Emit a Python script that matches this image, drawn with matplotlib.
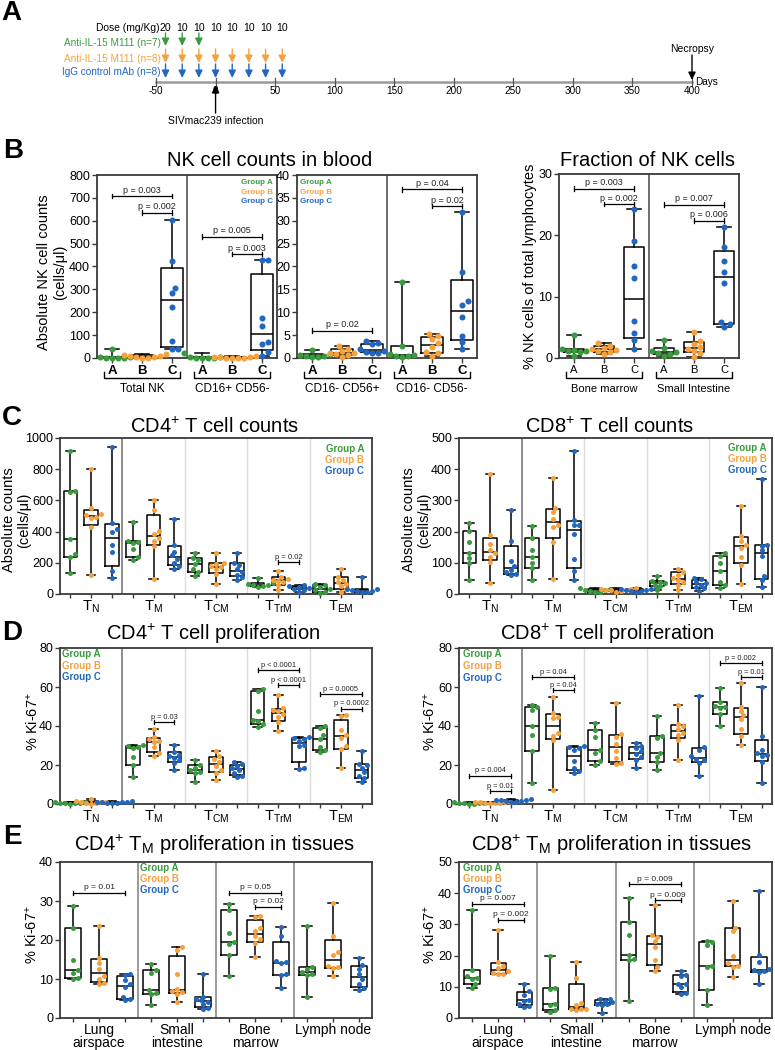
import numpy as np
import matplotlib
matplotlib.use('Agg')
import matplotlib.pyplot as plt
from matplotlib.transforms import blended_transform_factory as btf

plt.rcParams['font.family'] = ['Liberation Sans', 'DejaVu Sans']
plt.rcParams['mathtext.fontset'] = 'custom'
plt.rcParams['mathtext.rm'] = 'Liberation Sans'
plt.rcParams['mathtext.it'] = 'Liberation Sans:italic'
plt.rcParams['mathtext.bf'] = 'Liberation Sans:bold'

A_FS = 7.2

# ---------------- DATA ----------------
group_names = ['Group A', 'Group B', 'Group C']
group_letters = ['A', 'B', 'C']
COLORS = ['#3A9B3E', '#F7A13C', '#2267BF']

# Panel A: dosing timeline
dose_days = [-42, -28, -14, 0, 14, 28, 42, 56]
dose_mg = [20, 10, 10, 10, 10, 10, 10, 10]
groupA_dose_days = [-42, -28, -14]
timeline_ticks = [-50, 0, 50, 100, 150, 200, 250, 300, 350, 400]
infection_day = 0
necropsy_day = 400
arm_labels = ['Anti-IL-15 M111 (n=7)', 'Anti-IL-15 M111 (n=8)', 'IgG control mAb (n=8)']

# Panel B: NK cell counts in blood (cells/ul) [group A, B, C]
nk_total = [[38, 5, 3, 2, 1, 0.5, 0], [18, 12, 9, 7, 5, 4, 2, 1],
            [604, 425, 304, 282, 225, 76, 41, 40]]
nk_cd16p_cd56n = [[20, 5, 3, 2, 1, 0.5, 0], [10, 6, 4, 3, 2, 1, 0.5, 0],
                  [430, 428, 177, 138, 68, 60, 25, 7]]
nk_cd16n_cd56p = [[1.7, 0.8, 0.6, 0.5, 0.4, 0.3, 0.2], [2.6, 2.0, 1.5, 1.2, 1.0, 0.8, 0.6, 0.3],
                  [3.8, 3.2, 3.0, 2.0, 1.5, 1.3, 1.2, 1.1]]
nk_cd16n_cd56n = [[16.7, 2.6, 0.8, 0.6, 0.5, 0.4, 0.3], [5.3, 4.7, 4.2, 3.3, 2.5, 1.3, 1.0, 0.4],
                  [32, 18.7, 12.4, 11.5, 8.9, 4.9, 3.6, 1.9]]
nk_subset_labels = ['Total NK', 'CD16+ CD56-', 'CD16- CD56+', 'CD16- CD56-']
# Fraction of NK cells (% of lymphocytes)
nk_frac_bm = [[3.7, 1.5, 1.3, 1.2, 1.1, 1.0, 0.4], [2.4, 2.0, 1.7, 1.5, 1.3, 1.1, 0.9, 0.7],
              [24.3, 19.1, 15.0, 13.1, 6.0, 4.0, 3.0, 1.5]]
nk_frac_si = [[2.9, 1.6, 1.2, 1.0, 0.8, 0.6, 0.4], [4.2, 2.8, 2.3, 1.8, 1.4, 1.2, 0.8, 0.2],
              [21.3, 18.1, 15.8, 14.0, 12.3, 5.8, 5.5, 5.0]]
nk_tissue_labels = ['Bone marrow', 'Small Intestine']

# Panel C: T cell counts
subset_labels = [r'T$_{\mathregular{N}}$', r'T$_{\mathregular{M}}$', r'T$_{\mathregular{CM}}$',
                 r'T$_{\mathregular{TrM}}$', r'T$_{\mathregular{EM}}$']
cd4_cnt_TN = [[919, 662, 654, 350, 256, 235, 135], [800, 550, 510, 505, 495, 485, 430, 120],
              [942, 455, 419, 400, 316, 271, 145, 103]]
cd4_cnt_TM = [[462, 340, 335, 325, 290, 235, 215], [603, 541, 402, 385, 360, 340, 306, 98],
              [483, 316, 272, 248, 225, 200, 178, 162]]
cd4_cnt_TCM = [[262, 230, 215, 190, 160, 140, 115], [265, 200, 192, 180, 172, 160, 130, 64],
               [265, 200, 185, 160, 140, 125, 110, 92]]
cd4_cnt_TrM = [[105, 72, 65, 60, 55, 50, 45], [150, 110, 98, 90, 85, 75, 55, 25],
               [60, 55, 50, 45, 40, 35, 28, 15]]
cd4_cnt_TEM = [[62, 55, 45, 32, 25, 15, 8], [160, 112, 90, 75, 65, 50, 30, 15],
               [108, 35, 30, 25, 22, 18, 14, 10]]
cd8_cnt_TN = [[228, 202, 168, 130, 115, 98, 45], [386, 188, 160, 142, 130, 120, 104, 34],
              [268, 170, 105, 90, 78, 70, 64, 60]]
cd8_cnt_TM = [[218, 178, 140, 118, 100, 83, 45], [373, 276, 262, 240, 220, 215, 168, 49],
              [457, 238, 222, 220, 192, 112, 73, 46]]
cd8_cnt_TCM = [[18, 15, 13, 12, 10, 8, 5], [18, 16, 15, 14, 13, 12, 10, 8],
               [18, 16, 15, 14, 12, 10, 9, 7]]
cd8_cnt_TrM = [[57, 43, 40, 35, 30, 25, 12], [80, 72, 62, 52, 45, 40, 30, 12],
               [52, 47, 40, 35, 30, 24, 18, 10]]
cd8_cnt_TEM = [[131, 122, 98, 75, 40, 28, 19], [283, 185, 170, 158, 148, 118, 94, 31],
               [368, 158, 155, 140, 122, 58, 45, 24]]

# Panel D: % Ki-67+
cd4_ki_TN = [[1.2, 0.9, 0.7, 0.5, 0.4, 0.3, 0.2], [2.8, 1.5, 1.2, 1.0, 0.8, 0.6, 0.4, 0.2],
             [1.4, 1.2, 1.0, 0.9, 0.8, 0.7, 0.5, 0.3]]
cd4_ki_TM = [[30.2, 29.5, 29.0, 28.5, 24.0, 19.8, 13.7], [38.6, 34.2, 33.5, 32.5, 31.6, 29.0, 26.2, 24.4],
             [30.3, 26.8, 25.3, 24.5, 23.7, 22.5, 21.0, 17.5]]
cd4_ki_TCM = [[22.4, 19.8, 18.5, 17.3, 16.5, 15.9, 11.1], [27.0, 24.8, 23.0, 21.5, 19.5, 17.5, 15.9, 12.5],
              [21.5, 20.5, 19.5, 18.3, 17.5, 16.0, 14.2, 13.8]]
cd4_ki_TrM = [[59.2, 58.2, 47.9, 43.0, 42.5, 41.0, 39.3], [56.0, 49.2, 48.2, 47.5, 46.0, 44.5, 42.0, 37.6],
              [34.4, 34.0, 33.5, 32.5, 30.5, 29.5, 18.6, 18.0]]
cd4_ki_TEM = [[39.8, 39.0, 35.6, 33.3, 29.0, 27.9, 26.5], [45.8, 45.0, 38.0, 35.5, 34.0, 29.6, 28.0, 18.5],
              [27.0, 20.5, 20.0, 18.5, 16.2, 14.5, 13.2, 11.1]]
cd8_ki_TN = [[0.8, 0.6, 0.5, 0.4, 0.3, 0.2, 0.1], [1.2, 1.0, 0.9, 0.8, 0.7, 0.6, 0.5, 0.3],
             [2.8, 2.3, 2.0, 1.8, 1.6, 1.4, 1.2, 1.0]]
cd8_ki_TM = [[51.0, 49.8, 48.4, 40.2, 35.6, 27.0, 10.8], [54.7, 46.7, 44.5, 44.0, 36.5, 35.0, 32.6, 7.0],
             [29.8, 29.3, 28.6, 27.5, 22.0, 18.5, 17.0, 16.0]]
cd8_ki_TCM = [[41.5, 38.1, 34.2, 27.5, 26.0, 21.9, 20.2], [52.0, 36.0, 34.5, 31.0, 27.4, 23.6, 20.8, 20.3],
              [31.3, 29.6, 28.5, 27.0, 25.5, 24.0, 22.5, 18.5]]
cd8_ki_TrM = [[45.0, 34.7, 34.0, 26.0, 24.0, 21.4, 17.3], [50.6, 41.0, 40.0, 38.5, 36.5, 35.5, 33.0, 22.7],
              [55.6, 29.2, 27.5, 24.5, 23.0, 22.8, 21.0, 14.5]]
cd8_ki_TEM = [[59.5, 52.3, 50.5, 49.7, 49.0, 46.2, 40.2], [61.8, 50.0, 47.5, 45.5, 43.5, 38.5, 35.0, 30.4],
              [60.0, 34.7, 27.5, 26.3, 25.3, 24.5, 21.3, 10.8]]

# Panel E: T_M proliferation in tissues (% Ki-67+)
tissue_labels = ['Lung\nairspace', 'Small\nintestine', 'Bone\nmarrow', 'Lymph node']
cd4_tm_lung = [[28.7, 23.0, 14.9, 12.3, 11.5, 10.2, 10.0], [23.6, 15.5, 14.2, 12.5, 10.8, 10.0, 9.0, 8.6],
               [11.3, 11.0, 9.8, 8.6, 8.0, 5.5, 4.8, 4.5]]
cd4_tm_si = [[13.8, 12.2, 11.5, 7.1, 6.4, 6.1, 3.4], [18.2, 17.4, 11.2, 7.5, 7.0, 6.6, 6.2, 4.0],
             [11.3, 5.5, 5.0, 4.5, 4.2, 3.5, 2.6, 2.3]]
cd4_tm_bm = [[29.2, 27.8, 21.9, 19.6, 18.9, 16.2, 10.8], [26.2, 25.8, 23.1, 22.3, 20.9, 20.2, 19.3, 15.6],
             [23.4, 21.1, 14.5, 14.3, 14.1, 11.3, 11.0, 7.7]]
cd4_tm_ln = [[23.6, 13.2, 12.6, 11.8, 11.3, 10.9, 5.5], [29.5, 21.0, 17.0, 16.2, 13.4, 13.0, 12.9, 10.8],
             [15.5, 13.6, 12.5, 11.3, 9.9, 8.8, 7.8, 7.3]]
cd8_tm_lung = [[34.7, 15.3, 13.4, 12.9, 12.5, 10.8, 9.6], [28.3, 18.0, 16.7, 16.0, 15.0, 14.4, 14.2, 14.0],
               [11.0, 8.6, 7.5, 5.8, 5.6, 4.5, 3.9, 3.5]]
cd8_tm_si = [[19.8, 9.6, 9.4, 4.6, 4.2, 2.7, 1.9], [17.8, 12.8, 4.8, 4.2, 3.0, 2.9, 2.8, 2.7],
             [6.2, 6.0, 5.6, 5.0, 4.6, 4.4, 4.2, 1.5]]
cd8_tm_bm = [[38.5, 30.7, 26.5, 20.1, 19.0, 18.5, 5.6], [36.1, 26.5, 26.0, 24.8, 22.8, 18.5, 16.3, 15.0],
             [15.0, 13.9, 13.4, 11.0, 10.8, 9.8, 8.0, 7.8]]
cd8_tm_ln = [[24.8, 24.2, 23.3, 16.7, 16.2, 9.1, 4.1], [37.6, 29.0, 27.8, 19.9, 17.5, 16.8, 16.5, 13.1],
             [40.6, 20.1, 17.9, 15.7, 15.3, 15.0, 14.6, 11.0]]

# significance comparisons: (section, group i, group j, bracket height, label)
pv_nk_left = [(0, 0, 2, 708, 'p = 0.003'), (0, 1, 2, 636, 'p = 0.002'),
              (1, 0, 2, 531, 'p = 0.005'), (1, 1, 2, 455, 'p = 0.003')]
pv_nk_mid = [(0, 0, 2, 6.0, 'p = 0.02'), (1, 0, 2, 36.9, 'p = 0.04'), (1, 1, 2, 33.2, 'p = 0.02')]
pv_nk_frac = [(0, 0, 2, 27.6, 'p = 0.003'), (0, 1, 2, 25.1, 'p = 0.002'),
              (1, 0, 2, 25.0, 'p = 0.007'), (1, 1, 2, 22.4, 'p = 0.006')]
pv_cd4_cnt = [(3, 1, 2, 203, 'p = 0.02')]
pv_cd4_ki = [(1, 1, 2, 41.9, 'p = 0.03'), (3, 0, 2, 68.5, 'p < 0.0001'), (3, 1, 2, 60.9, 'p < 0.0001'),
             (4, 0, 2, 56.4, 'p = 0.0005'), (4, 1, 2, 48.9, 'p = 0.0002')]
pv_cd8_ki = [(0, 0, 2, 14.5, 'p = 0.004'), (0, 1, 2, 6.5, 'p = 0.01'), (1, 0, 2, 65.1, 'p = 0.04'),
             (1, 1, 2, 58.3, 'p = 0.04'), (4, 0, 2, 72.3, 'p = 0.002'), (4, 1, 2, 65.1, 'p = 0.01')]
pv_cd4_tm = [(0, 0, 2, 32.1, 'p = 0.01'), (2, 0, 2, 32.1, 'p = 0.05'), (2, 1, 2, 28.5, 'p = 0.02')]
pv_cd8_tm = [(0, 0, 2, 36.6, 'p = 0.007'), (0, 1, 2, 31.5, 'p = 0.002'),
             (2, 0, 2, 42.8, 'p = 0.009'), (2, 1, 2, 37.7, 'p = 0.009')]

# ---------------- HELPERS ----------------
W, H = 775, 1050
fig = plt.figure(figsize=(W / 100, H / 100), dpi=100)
SPINE = '#3a3a3a'


def px_axes(l, t, r, b):
    return fig.add_axes([l / W, 1 - b / H, (r - l) / W, (b - t) / H])


def ftext(x, y, s, **kw):
    return fig.text(x / W, 1 - y / H, s, **kw)


def box_stats(vals):
    v = np.asarray(vals, float)
    q1, med, q3 = np.percentile(v, [25, 50, 75], method='weibull')
    return dict(med=med, q1=q1, q3=q3, whislo=v.min(), whishi=v.max(), fliers=[])


def swarm_x(ax, x, vals, diam):
    T = ax.transData
    v = np.asarray(vals, float)
    pts = T.transform(np.column_stack([np.full(len(v), float(x)), v]))
    ys = pts[:, 1]
    ppu = T.transform((x + 1.0, 0))[0] - T.transform((x, 0))[0]
    placed = []
    offs = np.zeros(len(v))
    step = diam * 0.5
    for i in np.argsort(ys):
        k = 0
        found = None
        while found is None:
            cands = [0.0] if k == 0 else [k * step, -k * step]
            for c in cands:
                if all((c - px) ** 2 + (ys[i] - py) ** 2 >= (diam * 0.9) ** 2 for px, py in placed):
                    found = c
                    break
            k += 1
        offs[i] = found
        placed.append((found, ys[i]))
    return x + offs / ppu


def style(ax, xlim, ylim, yticks, labelsize=9):
    ax.set_xlim(*xlim)
    ax.set_ylim(*ylim)
    ax.set_yticks(yticks)
    for sp in ax.spines.values():
        sp.set_linewidth(1.3)
        sp.set_color(SPINE)
    ax.tick_params(axis='both', direction='out', length=3.5, width=1, color=SPINE,
                   labelsize=labelsize, pad=1.5)


def draw_sections(ax, sections, box_w, cap_w, diam, ms):
    for s, groups in enumerate(sections):
        for j, vals in enumerate(groups):
            x = 3 * s + j
            lp = dict(color='black', lw=1.1)
            ax.bxp([box_stats(vals)], positions=[x], widths=box_w, capwidths=cap_w,
                   showfliers=False, manage_ticks=False, boxprops=lp, medianprops=lp,
                   whiskerprops=lp, capprops=lp)
            xs = swarm_x(ax, x, vals, diam)
            ax.scatter(xs, vals, s=ms, color=COLORS[j], zorder=4, linewidths=0, clip_on=False)


def sig(ax, comps, fs, hfrac=0.013):
    lo, hi = ax.get_ylim()
    h = (hi - lo) * hfrac
    for s, i, j, y, text in comps:
        x1, x2 = 3 * s + i, 3 * s + j
        ax.plot([x1, x2], [y, y], color='black', lw=0.9, zorder=5)
        for xx in (x1, x2):
            ax.plot([xx, xx], [y - h, y + h], color='black', lw=0.9, zorder=5)
        ax.annotate(text, ((x1 + x2) / 2, y), xytext=(0, 1.0), textcoords='offset points',
                    ha='center', va='bottom', fontsize=fs, color='#222222')


def legend(x, ys, ha, fs):
    for name, col, y in zip(group_names, COLORS, ys):
        ftext(x, y, name, color=col, fontweight='bold', fontsize=fs, ha=ha, va='center')


def under_bracket(ax, x1, x2, label, fs=8.5):
    tr = btf(ax.transData, fig.transFigure)
    yl, yt = 1 - 378 / H, 1 - 372 / H
    ax.plot([x1, x1, x2, x2], [yt, yl, yl, yt], transform=tr, color='black', lw=1, clip_on=False)
    ax.text((x1 + x2) / 2, 1 - 389 / H, label, transform=tr, ha='center', va='center', fontsize=fs)


# ---------------- PANEL LETTERS ----------------
for letter, (lx, ly) in zip('ABCDE', [(11, 13), (13, 151), (12, 418), (12, 633), (12, 837)]):
    ftext(lx, ly, letter, fontsize=20, fontweight='bold', ha='center', va='center')

# ---------------- PANEL A ----------------
axA = px_axes(156, 15, 692, 125)
axA.set_xlim(timeline_ticks[0], timeline_ticks[-1])
axA.set_ylim(125, 15)
axA.axis('off')
akw = dict(fontsize=A_FS)
axA.plot([timeline_ticks[0], timeline_ticks[-1]], [82, 82], color='#9a9a9a', lw=1.8, clip_on=False)
for t in timeline_ticks:
    axA.plot([t, t], [78, 86], color='#555555', lw=0.9, clip_on=False)
    axA.text(t, 91, str(t), ha='center', va='center', **akw)
axA.annotate('Days', (timeline_ticks[-1], 82), xytext=(2, 0), textcoords='offset points',
             ha='left', va='center', **akw)
for d, mg in zip(dose_days, dose_mg):
    axA.text(d, 28, str(mg), ha='center', va='center', fontsize=7.6)
axA.annotate('Dose (mg/Kg)', (dose_days[0], 28), xytext=(-4.5, 0), textcoords='offset points',
             ha='right', va='center', fontsize=7.4)
rows = [(groupA_dose_days, COLORS[0], 33, 46, 43), (dose_days, COLORS[1], 49, 63, 59),
        (dose_days, COLORS[2], 64, 78, 72)]
for (days, col, yt, yb, ylab), lab in zip(rows, arm_labels):
    for d in days:
        axA.annotate('', xy=(d, yb), xytext=(d, yt),
                     arrowprops=dict(arrowstyle='-|>,head_length=0.45,head_width=0.22', color=col,
                                     lw=1.0, shrinkA=0, shrinkB=0, mutation_scale=10))
    axA.annotate(lab, (days[0], ylab), xytext=(-3.5, 0), textcoords='offset points',
                 ha='right', va='center', color=col, **akw)
axA.text(necropsy_day, 49, 'Necropsy', ha='center', va='center', fontsize=7.5)
axA.annotate('', xy=(necropsy_day, 80), xytext=(necropsy_day, 55),
             arrowprops=dict(arrowstyle='-|>,head_length=0.45,head_width=0.22', color='black',
                             lw=1.0, shrinkA=0, shrinkB=0, mutation_scale=10))
axA.annotate('', xy=(infection_day, 85), xytext=(infection_day, 113),
             arrowprops=dict(arrowstyle='-|>,head_length=0.45,head_width=0.22', color='black',
                             lw=1.0, shrinkA=0, shrinkB=0, mutation_scale=10))
axA.text(infection_day, 121, 'SIVmac239 infection', ha='center', va='center', fontsize=7.5)

# ---------------- PANEL B ----------------
axB1 = px_axes(97, 175, 277, 358)
style(axB1, (-0.5, 5.5), (0, 800), range(0, 801, 100))
axB1.axvline(2.5, color='#555555', lw=1.2)
draw_sections(axB1, [nk_total, nk_cd16p_cd56n], 0.72, 0.45, 6, 19)
sig(axB1, pv_nk_left, 6.5)
axB1.set_xticks(range(6))
axB1.set_xticklabels(group_letters * 2, fontweight='bold', fontsize=9.5)
under_bracket(axB1, -0.27, 2.27, nk_subset_labels[0])
under_bracket(axB1, 2.73, 5.27, nk_subset_labels[1])
legend(273, [182, 192, 202], 'right', 5.8)

axB2 = px_axes(297, 175, 477, 358)
style(axB2, (-0.5, 5.5), (0, 40), range(0, 41, 5))
axB2.axvline(2.5, color='#555555', lw=1.2)
draw_sections(axB2, [nk_cd16n_cd56p, nk_cd16n_cd56n], 0.72, 0.45, 6, 19)
sig(axB2, pv_nk_mid, 6.5)
axB2.set_xticks(range(6))
axB2.set_xticklabels(group_letters * 2, fontweight='bold', fontsize=9.5)
under_bracket(axB2, -0.27, 2.27, nk_subset_labels[2])
under_bracket(axB2, 2.73, 5.27, nk_subset_labels[3])
legend(300, [182, 192, 202], 'left', 5.8)
ftext(270, 160, 'NK cell counts in blood', fontsize=14.5, ha='center', va='center')
ftext(52, 272, 'Absolute NK cell counts\n(cells/\u03bcl)', fontsize=10.5, rotation=90,
      ha='center', va='center', multialignment='center', linespacing=1.15)

axB3 = px_axes(559, 174, 739, 358)
style(axB3, (-0.5, 5.5), (0, 30), [0, 10, 20, 30])
axB3.axvline(2.5, color='#555555', lw=1.2)
draw_sections(axB3, [nk_frac_bm, nk_frac_si], 0.68, 0.45, 6, 19)
sig(axB3, pv_nk_frac, 6.5)
axB3.set_xticks(range(6))
axB3.set_xticklabels(group_letters * 2, fontsize=8)
under_bracket(axB3, -0.27, 2.27, nk_tissue_labels[0], 8)
under_bracket(axB3, 2.73, 5.27, nk_tissue_labels[1], 8)
ftext(648, 161, 'Fraction of NK cells', fontsize=14.5, ha='center', va='center')
ftext(530, 266, '% NK cells of total lymphocytes', fontsize=10.5, rotation=90,
      ha='center', va='center')


# ---------------- PANELS C/D ----------------
def subset_panel(box, sections, ylim, yticks, comps, pfs, title, tx, ty, ylabel, ylx, yly,
                 leg_x, leg_ys, leg_ha):
    ax = px_axes(*box)
    style(ax, (-0.5, 14.5), ylim, yticks)
    ax.axvline(2.5, color='#7a7a7a', lw=1.2)
    for xv in (5.5, 8.5, 11.5):
        ax.axvline(xv, color='#dcdcdc', lw=1.0)
    draw_sections(ax, sections, 0.66, 0.4, 5, 13)
    sig(ax, comps, pfs)
    ax.set_xticks(range(15))
    labs = []
    for s in range(5):
        labs += ['', subset_labels[s], '']
    ax.set_xticklabels(labs, fontsize=10.5)
    ax.tick_params(axis='x', length=3, pad=0.5)
    ftext(tx, ty, title, fontsize=14.5, ha='center', va='center')
    ftext(ylx, yly, ylabel, fontsize=10.5, rotation=90, ha='center', va='center',
          multialignment='center', linespacing=1.1)
    legend(leg_x, leg_ys, leg_ha, 7)
    return ax


subset_panel((60, 438, 372, 594), [cd4_cnt_TN, cd4_cnt_TM, cd4_cnt_TCM, cd4_cnt_TrM, cd4_cnt_TEM],
             (0, 1000), range(0, 1001, 200), pv_cd4_cnt, 5.5,
             r'CD4$^{\mathregular{+}}$ T cell counts', 215, 427,
             'Absolute counts\n(cells/\u03bcl)', 17, 520, 364, [449, 460, 471], 'right')
subset_panel((459, 438, 772, 594), [cd8_cnt_TN, cd8_cnt_TM, cd8_cnt_TCM, cd8_cnt_TrM, cd8_cnt_TEM],
             (0, 500), range(0, 501, 100), [], 5.5,
             r'CD8$^{\mathregular{+}}$ T cell counts', 610, 427,
             'Absolute counts\n(cells/\u03bcl)', 417, 520, 767, [448, 459, 470], 'right')
subset_panel((60, 648, 372, 804), [cd4_ki_TN, cd4_ki_TM, cd4_ki_TCM, cd4_ki_TrM, cd4_ki_TEM],
             (0, 80), range(0, 81, 20), pv_cd4_ki, 5.3,
             r'CD4$^{\mathregular{+}}$ T cell proliferation', 213, 634,
             r'% Ki-67$^{\mathregular{+}}$', 33, 722, 62, [654, 666, 677], 'left')
subset_panel((459, 648, 772, 804), [cd8_ki_TN, cd8_ki_TM, cd8_ki_TCM, cd8_ki_TrM, cd8_ki_TEM],
             (0, 80), range(0, 81, 20), pv_cd8_ki, 5.3,
             r'CD8$^{\mathregular{+}}$ T cell proliferation', 607, 634,
             r'% Ki-67$^{\mathregular{+}}$', 430, 722, 463, [654, 666, 678], 'left')


# ---------------- PANEL E ----------------
def tissue_panel(box, sections, ylim, yticks, comps, title, tx, ylx, leg_x):
    ax = px_axes(*box)
    style(ax, (-0.5, 11.5), ylim, yticks)
    for xv in (2.5, 5.5, 8.5):
        ax.axvline(xv, color='#8a8a8a', lw=1.2)
    draw_sections(ax, sections, 0.58, 0.38, 5, 13)
    sig(ax, comps, 6)
    ax.set_xticks(range(12))
    labs = []
    for s in range(4):
        labs += ['', tissue_labels[s], '']
    ax.set_xticklabels(labs, fontsize=10, linespacing=0.95)
    ax.tick_params(axis='x', length=3, pad=0.5)
    ftext(tx, 845, title, fontsize=14.5, ha='center', va='center')
    ftext(ylx, 935, r'% Ki-67$^{\mathregular{+}}$', fontsize=10.5, rotation=90, ha='center', va='center')
    legend(leg_x, [868, 879, 890], 'left', 7)
    return ax


tissue_panel((60, 862, 372, 1018), [cd4_tm_lung, cd4_tm_si, cd4_tm_bm, cd4_tm_ln], (0, 40),
             range(0, 41, 10), pv_cd4_tm,
             r'CD4$^{\mathregular{+}}$ T$_{\mathregular{M}}$ proliferation in tissues', 215, 32, 140)
tissue_panel((459, 862, 772, 1018), [cd8_tm_lung, cd8_tm_si, cd8_tm_bm, cd8_tm_ln], (0, 50),
             range(0, 51, 10), pv_cd8_tm,
             r'CD8$^{\mathregular{+}}$ T$_{\mathregular{M}}$ proliferation in tissues', 612, 430, 463)

fig.savefig('out.png', dpi=100)
